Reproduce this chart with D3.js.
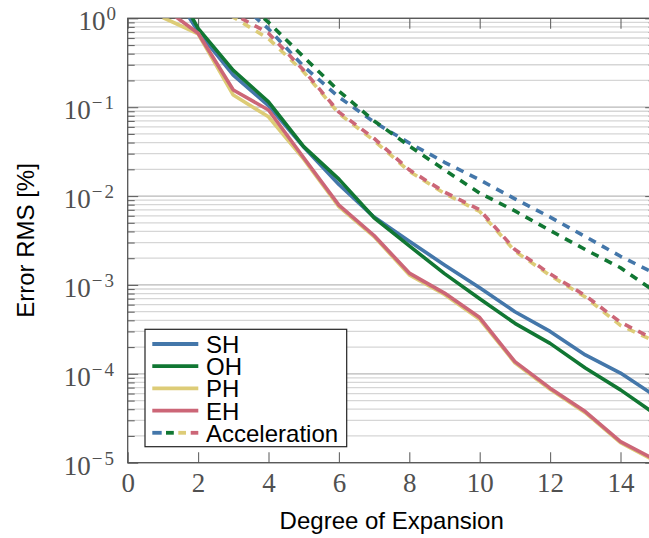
<!DOCTYPE html>
<html>
<head>
<meta charset="utf-8">
<script src="https://cdn.jsdelivr.net/npm/d3@7"></script>
<style>
  html, body { margin: 0; padding: 0; background: #fff; }
  svg { display: block; }
</style>
</head>
<body>
<svg id="chart" width="649" height="538"></svg>
<script>
// ---------------- data ----------------
const degrees = [1, 2, 3, 4, 5, 6, 7, 8, 9, 10, 11, 12, 13, 14, 15];

const shRms = [3.0, 0.71, 0.23, 0.104, 0.0356, 0.0135, 0.0058, 0.0031, 0.00168, 0.00093, 0.0005, 0.0003, 0.000163, 0.000102, 5.6e-5];
const ohRms = [4.0, 0.77, 0.26, 0.115, 0.036, 0.0155, 0.0057, 0.00275, 0.00134, 0.0007, 0.00037, 0.00022, 0.000116, 6.6e-5, 3.5e-5];
const phRms = [1.02, 0.67, 0.137, 0.078, 0.026, 0.0076, 0.0035, 0.0013, 0.00078, 0.00041, 0.000133, 6.7e-5, 3.65e-5, 1.68e-5, 1.04e-5];
const ehRms = [1.33, 0.68, 0.156, 0.093, 0.027, 0.0079, 0.0036, 0.00136, 0.00081, 0.00043, 0.000137, 6.9e-5, 3.76e-5, 1.73e-5, 1.07e-5];

const shAcc = [8, 4, 1.7, 0.76, 0.287, 0.130, 0.068, 0.0395, 0.024, 0.0152, 0.0093, 0.0058, 0.0035, 0.0021, 0.00133];
const ohAcc = [10, 5, 2.0, 0.90, 0.367, 0.152, 0.070, 0.0366, 0.0197, 0.0108, 0.0068, 0.0041, 0.0025, 0.00156, 0.00083];
const phAcc = [5, 2.0, 1.03, 0.59, 0.249, 0.085, 0.042, 0.0190, 0.0107, 0.0067, 0.0024, 0.00128, 0.00073, 0.00035, 0.00023];
const ehAcc = [6, 2.5, 1.12, 0.68, 0.26, 0.088, 0.0445, 0.0197, 0.0111, 0.0070, 0.00250, 0.00133, 0.00076, 0.00038, 0.00024];

const seriesNames = ["SH", "OH", "PH", "EH"];
const seriesColors = ["#4477AA", "#117733", "#DDCC77", "#CC6677"];
const rmsSeries = [shRms, ohRms, phRms, ehRms];
const accSeries = [shAcc, ohAcc, phAcc, ehAcc];
const accLabel = "Acceleration";

const xTicks = [0, 2, 4, 6, 8, 10, 12, 14];
const yExponents = [0, -1, -2, -3, -4, -5];
const xTitle = "Degree of Expansion";
const yTitle = "Error RMS [%]";

// ---------------- layout ----------------
const L = 127.7, R = 655.7, T = 18.3, B = 462.7;
const svg = d3.select("#chart");

const x = d3.scaleLinear().domain([0, 15]).range([L, R]);
const y = d3.scaleLog().domain([1e-5, 1]).range([B, T]);

const serif = "'Liberation Serif', 'Times New Roman', serif";
const sans = "'Liberation Sans', Arial, sans-serif";
const labelGray = "#505050";

// grid values
const majors = yExponents.map(e => Math.pow(10, e));
const minors = [];
for (let e = -5; e < 0; e++) for (let m = 2; m <= 9; m++) minors.push(m * Math.pow(10, e));

// grid lines
const grid = svg.append("g");
grid.selectAll("line.minor").data(minors).join("line")
  .attr("x1", L).attr("x2", R)
  .attr("y1", d => y(d)).attr("y2", d => y(d))
  .attr("stroke", "#d6d6d6").attr("stroke-width", 1.3);
grid.selectAll("line.major").data(majors).join("line")
  .attr("x1", L).attr("x2", R)
  .attr("y1", d => y(d)).attr("y2", d => y(d))
  .attr("stroke", "#b8b8b8").attr("stroke-width", 1.3);

// axes ticks
function styleAxis(g) {
  g.select(".domain").remove();
  g.selectAll(".tick line").attr("stroke", "#666").attr("stroke-width", 1.1);
}
svg.append("g").attr("transform", `translate(0,${B})`)
  .call(d3.axisBottom(x).tickValues(xTicks).tickSize(-10.5).tickPadding(10).tickFormat(d => d))
  .call(styleAxis)
  .call(g => g.selectAll("text").attr("font-family", serif).attr("font-size", 27).attr("fill", labelGray));
svg.append("g").attr("transform", `translate(0,${T})`)
  .call(d3.axisTop(x).tickValues(xTicks).tickSize(-10.5).tickFormat(""))
  .call(styleAxis);
svg.append("g").attr("transform", `translate(${L},0)`)
  .call(d3.axisLeft(y).tickValues(majors).tickSize(-10.5).tickFormat(""))
  .call(styleAxis);
svg.append("g").attr("transform", `translate(${L},0)`)
  .call(d3.axisLeft(y).tickValues(minors).tickSize(-7).tickFormat(""))
  .call(styleAxis);
svg.append("g").attr("transform", `translate(${R},0)`)
  .call(d3.axisRight(y).tickValues(majors).tickSize(-10.5).tickFormat(""))
  .call(styleAxis);
svg.append("g").attr("transform", `translate(${R},0)`)
  .call(d3.axisRight(y).tickValues(minors).tickSize(-7).tickFormat(""))
  .call(styleAxis);

// y tick labels 10^e
const yl = svg.append("g");
yExponents.forEach(e => {
  const t = yl.append("text")
    .attr("x", 116).attr("y", y(Math.pow(10, e)) + 12)
    .attr("text-anchor", "end")
    .attr("font-family", serif).attr("fill", labelGray);
  t.append("tspan").attr("font-size", 27).text("10");
  t.append("tspan").attr("font-size", 19).attr("dy", -10)
    .attr("dx", 1)
    .attr("letter-spacing", e < 0 ? 2 : 0)
    .text(e < 0 ? "\u2212" + (-e) : String(e));
});

// frame
svg.append("rect").attr("x", L).attr("y", T).attr("width", R - L).attr("height", B - T)
  .attr("fill", "none").attr("stroke", "#555").attr("stroke-width", 1.3);

// clip
svg.append("clipPath").attr("id", "plotclip")
  .append("rect").attr("x", L).attr("y", T).attr("width", R - L).attr("height", B - T);

const line = d3.line().x((d, i) => x(degrees[i])).y(d => y(d));
const plot = svg.append("g").attr("clip-path", "url(#plotclip)");

// dashed acceleration curves
accSeries.forEach((s, i) => {
  plot.append("path").datum(s)
    .attr("d", line)
    .attr("fill", "none")
    .attr("stroke", seriesColors[i])
    .attr("stroke-width", 3.6)
    .attr("stroke-dasharray", "8,7")
    .attr("stroke-linejoin", "round");
});
// solid RMS curves
rmsSeries.forEach((s, i) => {
  plot.append("path").datum(s)
    .attr("d", line)
    .attr("fill", "none")
    .attr("stroke", seriesColors[i])
    .attr("stroke-width", 3.6)
    .attr("stroke-linejoin", "round");
});

// axis titles
svg.append("text")
  .attr("x", (L + R) / 2).attr("y", 529)
  .attr("text-anchor", "middle")
  .attr("font-family", sans).attr("font-size", 24).attr("fill", "#000")
  .text(xTitle);
svg.append("text")
  .attr("transform", `translate(34,${(T + B) / 2}) rotate(-90)`)
  .attr("text-anchor", "middle")
  .attr("font-family", sans).attr("font-size", 24).attr("fill", "#000")
  .text(yTitle);

// legend
const lg = svg.append("g");
lg.append("rect").attr("x", 145).attr("y", 329.3).attr("width", 201.7).attr("height", 117.4)
  .attr("fill", "#fff").attr("stroke", "#222").attr("stroke-width", 1.2);
const rowY = i => 344 + i * 22.2;
seriesNames.forEach((n, i) => {
  lg.append("line").attr("x1", 152.3).attr("x2", 198.3)
    .attr("y1", rowY(i)).attr("y2", rowY(i))
    .attr("stroke", seriesColors[i]).attr("stroke-width", 3.8);
  lg.append("text").attr("x", 206).attr("y", rowY(i) + 9)
    .attr("font-family", sans).attr("font-size", 24).attr("fill", "#000").text(n);
});
const dashX = [[152.3, 161.7], [166, 173.8], [178.3, 186], [190.7, 198.3]];
dashX.forEach((dx, i) => {
  lg.append("line").attr("x1", dx[0]).attr("x2", dx[1])
    .attr("y1", rowY(4)).attr("y2", rowY(4))
    .attr("stroke", seriesColors[i]).attr("stroke-width", 3.8);
});
lg.append("text").attr("x", 206).attr("y", rowY(4) + 9)
  .attr("font-family", sans).attr("font-size", 24).attr("fill", "#000").text(accLabel);
</script>
</body>
</html>
